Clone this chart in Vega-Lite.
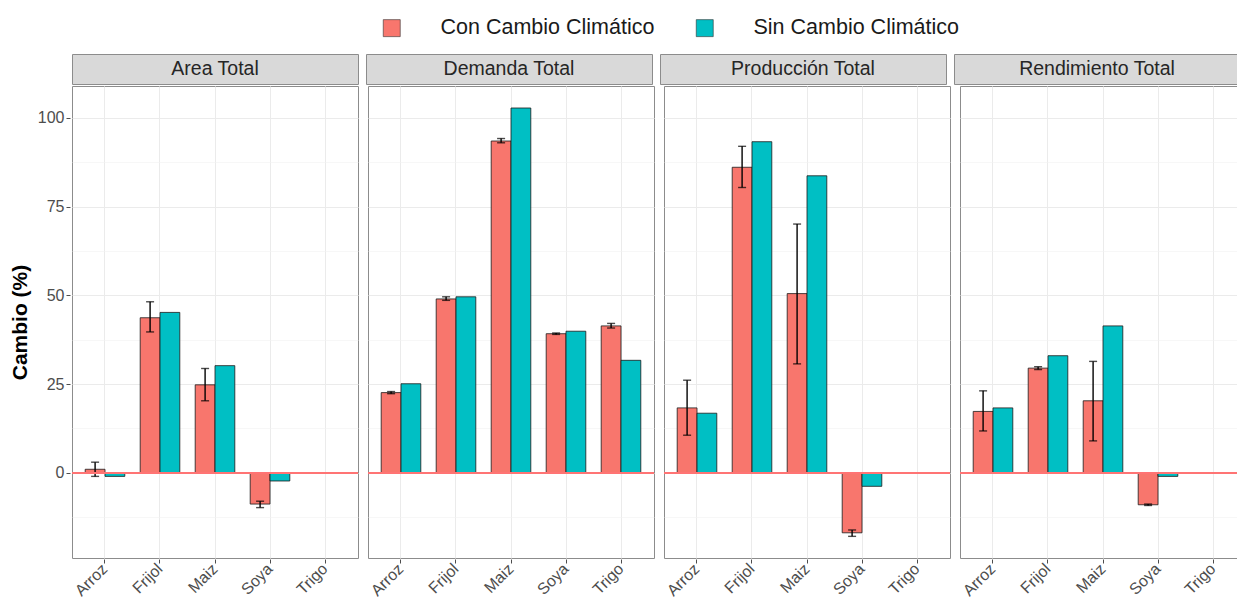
{
  "$schema": "https://vega.github.io/schema/vega-lite/v6.json",
  "padding": {"left": 9, "top": 17, "right": 2, "bottom": 2},
  "background": "white",
  "datasets": {
    "panels": [
      {"panel": "Area Total"},
      {"panel": "Demanda Total"},
      {"panel": "Producción Total"},
      {"panel": "Rendimiento Total"}
    ],
    "cambio": [
      {"panel": "Area Total", "producto": "Arroz", "escenario": "Con Cambio Climático", "valor": 1.0, "lo": -1.0, "hi": 3.0},
      {"panel": "Area Total", "producto": "Arroz", "escenario": "Sin Cambio Climático", "valor": -1.0, "lo": null, "hi": null},
      {"panel": "Area Total", "producto": "Frijol", "escenario": "Con Cambio Climático", "valor": 43.7, "lo": 39.7, "hi": 48.2},
      {"panel": "Area Total", "producto": "Frijol", "escenario": "Sin Cambio Climático", "valor": 45.2, "lo": null, "hi": null},
      {"panel": "Area Total", "producto": "Maiz", "escenario": "Con Cambio Climático", "valor": 24.8, "lo": 20.3, "hi": 29.4},
      {"panel": "Area Total", "producto": "Maiz", "escenario": "Sin Cambio Climático", "valor": 30.2, "lo": null, "hi": null},
      {"panel": "Area Total", "producto": "Soya", "escenario": "Con Cambio Climático", "valor": -8.8, "lo": -9.8, "hi": -8.0},
      {"panel": "Area Total", "producto": "Soya", "escenario": "Sin Cambio Climático", "valor": -2.3, "lo": null, "hi": null},
      {"panel": "Demanda Total", "producto": "Arroz", "escenario": "Con Cambio Climático", "valor": 22.6, "lo": 22.3, "hi": 22.9},
      {"panel": "Demanda Total", "producto": "Arroz", "escenario": "Sin Cambio Climático", "valor": 25.1, "lo": null, "hi": null},
      {"panel": "Demanda Total", "producto": "Frijol", "escenario": "Con Cambio Climático", "valor": 49.0, "lo": 48.6, "hi": 49.6},
      {"panel": "Demanda Total", "producto": "Frijol", "escenario": "Sin Cambio Climático", "valor": 49.6, "lo": null, "hi": null},
      {"panel": "Demanda Total", "producto": "Maiz", "escenario": "Con Cambio Climático", "valor": 93.5, "lo": 93.0, "hi": 94.2},
      {"panel": "Demanda Total", "producto": "Maiz", "escenario": "Sin Cambio Climático", "valor": 102.8, "lo": null, "hi": null},
      {"panel": "Demanda Total", "producto": "Soya", "escenario": "Con Cambio Climático", "valor": 39.2, "lo": 39.0, "hi": 39.4},
      {"panel": "Demanda Total", "producto": "Soya", "escenario": "Sin Cambio Climático", "valor": 39.9, "lo": null, "hi": null},
      {"panel": "Demanda Total", "producto": "Trigo", "escenario": "Con Cambio Climático", "valor": 41.4, "lo": 40.8, "hi": 42.1},
      {"panel": "Demanda Total", "producto": "Trigo", "escenario": "Sin Cambio Climático", "valor": 31.7, "lo": null, "hi": null},
      {"panel": "Producción Total", "producto": "Arroz", "escenario": "Con Cambio Climático", "valor": 18.3, "lo": 10.6, "hi": 26.1},
      {"panel": "Producción Total", "producto": "Arroz", "escenario": "Sin Cambio Climático", "valor": 16.8, "lo": null, "hi": null},
      {"panel": "Producción Total", "producto": "Frijol", "escenario": "Con Cambio Climático", "valor": 86.1, "lo": 80.4, "hi": 92.0},
      {"panel": "Producción Total", "producto": "Frijol", "escenario": "Sin Cambio Climático", "valor": 93.3, "lo": null, "hi": null},
      {"panel": "Producción Total", "producto": "Maiz", "escenario": "Con Cambio Climático", "valor": 50.5, "lo": 30.7, "hi": 70.1},
      {"panel": "Producción Total", "producto": "Maiz", "escenario": "Sin Cambio Climático", "valor": 83.7, "lo": null, "hi": null},
      {"panel": "Producción Total", "producto": "Soya", "escenario": "Con Cambio Climático", "valor": -16.9, "lo": -17.9, "hi": -16.1},
      {"panel": "Producción Total", "producto": "Soya", "escenario": "Sin Cambio Climático", "valor": -3.8, "lo": null, "hi": null},
      {"panel": "Rendimiento Total", "producto": "Arroz", "escenario": "Con Cambio Climático", "valor": 17.3, "lo": 11.8, "hi": 23.1},
      {"panel": "Rendimiento Total", "producto": "Arroz", "escenario": "Sin Cambio Climático", "valor": 18.3, "lo": null, "hi": null},
      {"panel": "Rendimiento Total", "producto": "Frijol", "escenario": "Con Cambio Climático", "valor": 29.5, "lo": 29.1, "hi": 29.9},
      {"panel": "Rendimiento Total", "producto": "Frijol", "escenario": "Sin Cambio Climático", "valor": 33.0, "lo": null, "hi": null},
      {"panel": "Rendimiento Total", "producto": "Maiz", "escenario": "Con Cambio Climático", "valor": 20.3, "lo": 9.0, "hi": 31.4},
      {"panel": "Rendimiento Total", "producto": "Maiz", "escenario": "Sin Cambio Climático", "valor": 41.4, "lo": null, "hi": null},
      {"panel": "Rendimiento Total", "producto": "Soya", "escenario": "Con Cambio Climático", "valor": -9.0, "lo": -9.2, "hi": -8.8},
      {"panel": "Rendimiento Total", "producto": "Soya", "escenario": "Sin Cambio Climático", "valor": -1.0, "lo": null, "hi": null}
    ]
  },
  "spacing": 0,
  "vconcat": [
    {
      "data": {"name": "panels"},
      "facet": {
        "column": {"field": "panel", "type": "nominal", "sort": ["Area Total", "Demanda Total", "Producción Total", "Rendimiento Total"], "header": {"title": null, "labels": false}}
      },
      "spacing": 6,
      "spec": {
        "width": 286,
        "height": 30,
        "view": {"fill": "#D9D9D9", "stroke": "#8C8C8C", "strokeWidth": 1},
        "mark": {"type": "text", "fontSize": 19.5, "color": "#262626", "font": "Liberation Sans", "baseline": "middle", "align": "center"},
        "encoding": {"text": {"field": "panel", "type": "nominal"}}
      }
    },
    {
      "data": {"name": "cambio"},
      "facet": {
        "column": {"field": "panel", "type": "nominal", "sort": ["Area Total", "Demanda Total", "Producción Total", "Rendimiento Total"], "header": {"title": null, "labels": false}}
      },
      "spacing": 6,
      "spec": {
        "width": 286,
        "height": 472,
        "view": {"stroke": "#8C8C8C", "strokeWidth": 1, "fill": "white"},
        "layer": [
          {
            "mark": {"type": "bar", "stroke": "#1A1A1A", "strokeWidth": 0.8},
            "encoding": {
              "x": {
                "field": "producto", "type": "nominal",
                "scale": {"domain": ["Arroz", "Frijol", "Maiz", "Soya", "Trigo"], "paddingInner": 0.28, "paddingOuter": 0.24},
                "axis": {
                  "title": null, "labelAngle": -45, "labelAlign": "right", "labelBaseline": "middle",
                  "bandPosition": 0.5, "grid": true, "gridColor": "#EBEBEB", "gridWidth": 1,
                  "domain": false, "tickColor": "#4D4D4D", "tickSize": 4, "labelPadding": 3,
                  "labelFontSize": 16, "labelColor": "#4D4D4D", "labelFont": "Liberation Sans"
                }
              },
              "xOffset": {"field": "escenario", "type": "nominal", "scale": {"domain": ["Con Cambio Climático", "Sin Cambio Climático"], "paddingInner": 0, "paddingOuter": 0}},
              "y": {
                "field": "valor", "type": "quantitative",
                "scale": {"domain": [-24, 109], "nice": false, "zero": false},
                "axis": {
                  "title": "Cambio (%)", "titleFontSize": 21, "titleFontWeight": "bold", "titleColor": "#000000", "titleFont": "Liberation Sans", "titlePadding": 7,
                  "values": [-12.5, 0, 12.5, 25, 37.5, 50, 62.5, 75, 87.5, 100],
                  "labelExpr": "datum.value % 25 === 0 ? datum.label : ''",
                  "grid": true,
                  "gridColor": {"condition": {"test": "datum.value % 25 !== 0", "value": "#F2F2F2"}, "value": "#EBEBEB"},
                  "gridWidth": {"condition": {"test": "datum.value % 25 !== 0", "value": 0.6}, "value": 1},
                  "tickOpacity": {"condition": {"test": "datum.value % 25 !== 0", "value": 0}, "value": 1},
                  "domain": false, "tickColor": "#4D4D4D", "tickSize": 4, "labelPadding": 2,
                  "labelFontSize": 16, "labelColor": "#4D4D4D", "labelFont": "Liberation Sans"
                }
              },
              "color": {
                "field": "escenario", "type": "nominal",
                "scale": {"domain": ["Con Cambio Climático", "Sin Cambio Climático"], "range": ["#F8766D", "#00BFC4"]},
                "legend": {
                  "title": null, "orient": "none", "legendX": 309, "legendY": -37, "direction": "horizontal",
                  "symbolType": "square", "symbolSize": 289, "symbolStrokeColor": "#333333", "symbolStrokeWidth": 0.6,
                  "labelFontSize": 21.5, "labelFont": "Liberation Sans", "labelColor": "#1A1A1A", "labelLimit": 500,
                  "labelOffset": 38, "columnPadding": 39
                }
              }
            }
          },
          {
            "transform": [{"filter": "isValid(datum.lo)"}],
            "mark": {"type": "rule", "color": "#000000", "strokeWidth": 1.4},
            "encoding": {
              "x": {"field": "producto", "type": "nominal"},
              "xOffset": {"field": "escenario", "type": "nominal"},
              "y": {"field": "lo", "type": "quantitative"}, "y2": {"field": "hi"}
            }
          },
          {
            "transform": [{"filter": "isValid(datum.lo)"}],
            "mark": {"type": "tick", "color": "#000000", "thickness": 1.4, "size": 8, "orient": "horizontal"},
            "encoding": {
              "x": {"field": "producto", "type": "nominal"},
              "xOffset": {"field": "escenario", "type": "nominal"},
              "y": {"field": "lo", "type": "quantitative"}
            }
          },
          {
            "transform": [{"filter": "isValid(datum.hi)"}],
            "mark": {"type": "tick", "color": "#000000", "thickness": 1.4, "size": 8, "orient": "horizontal"},
            "encoding": {
              "x": {"field": "producto", "type": "nominal"},
              "xOffset": {"field": "escenario", "type": "nominal"},
              "y": {"field": "hi", "type": "quantitative"}
            }
          },
          {
            "mark": {"type": "rule", "color": "#FF7575", "strokeWidth": 1.3},
            "encoding": {"y": {"datum": 0}}
          }
        ]
      }
    }
  ],
  "config": {
    "font": "Liberation Sans"
  }
}
